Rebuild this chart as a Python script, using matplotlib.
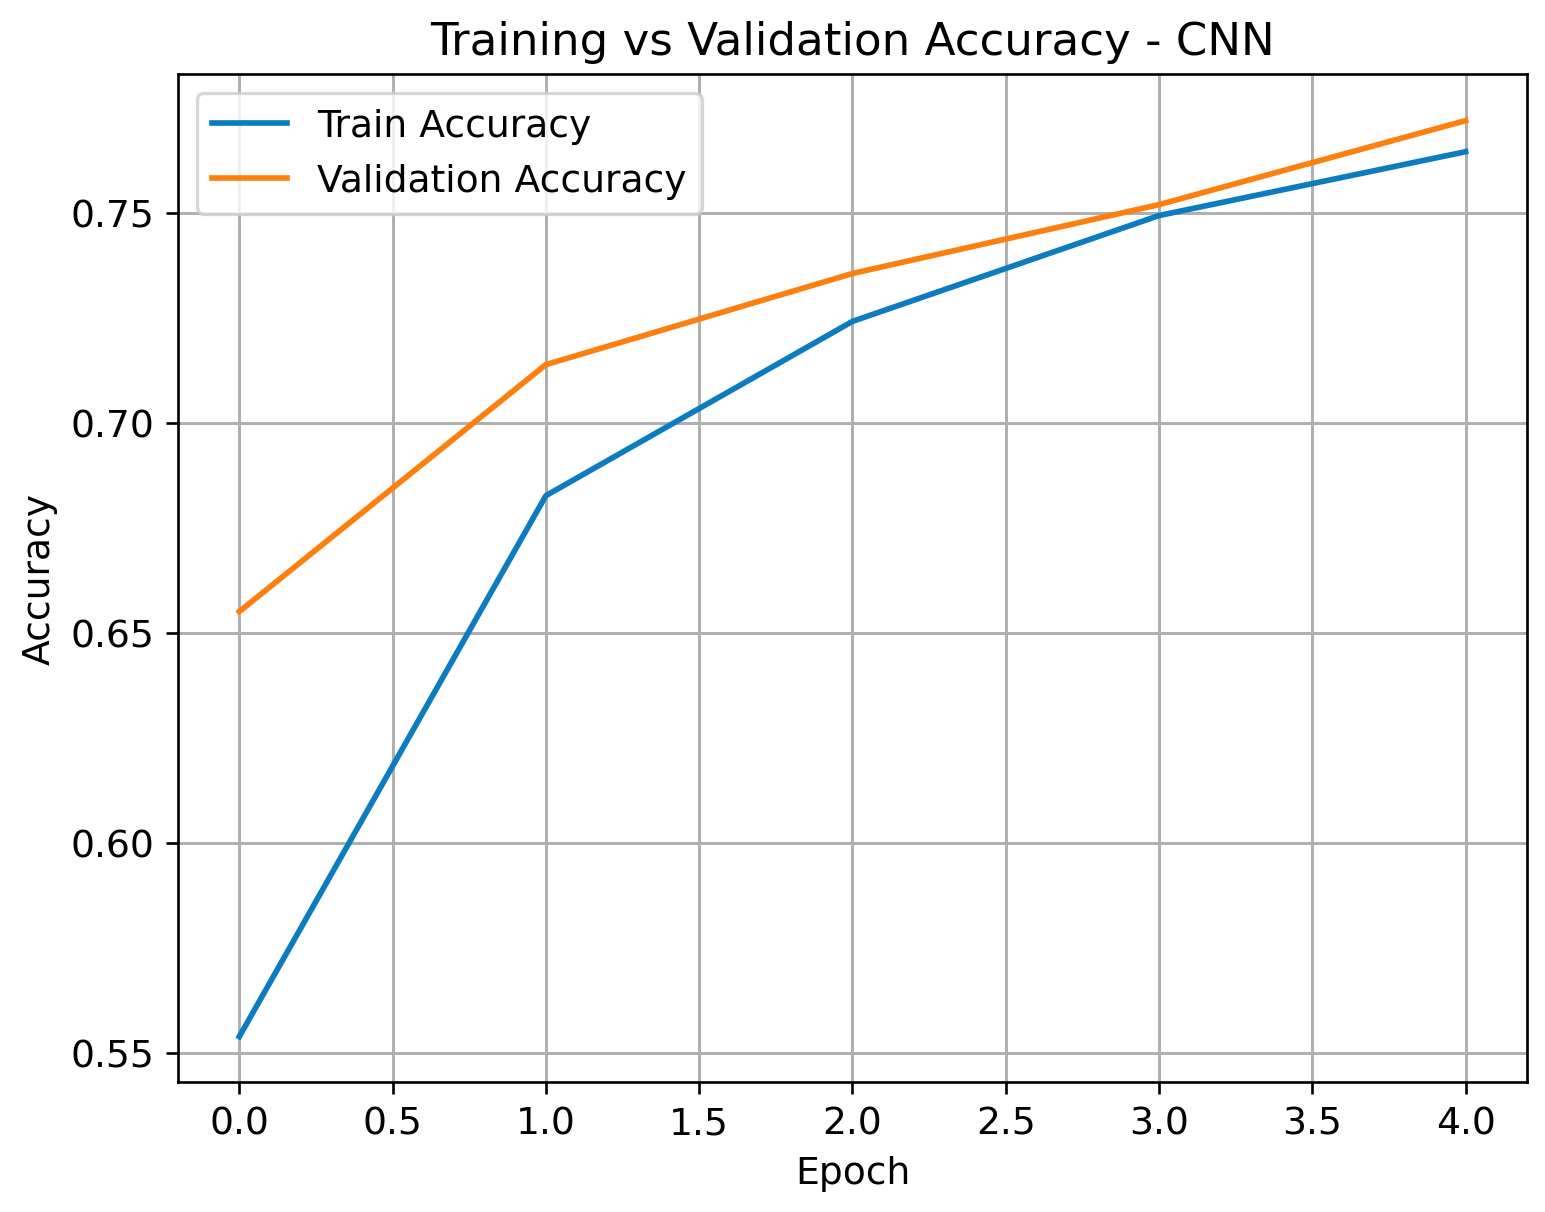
import matplotlib
matplotlib.use("Agg")
import matplotlib.pyplot as plt

# values
epochs = [0, 1, 2, 3, 4]
train_acc = [0.5538, 0.6826, 0.7241, 0.7493, 0.7645]
val_acc = [0.6550, 0.7138, 0.7355, 0.7519, 0.7719]

plt.rcParams["font.size"] = 11.3
plt.rcParams["grid.linewidth"] = 0.9

fig = plt.figure(figsize=(6.4375, 5.054), dpi=240)
ax = fig.add_axes([0.1152, 0.1072, 0.8731, 0.8310])

ax.plot(epochs, train_acc, color="#0b7cbf", lw=1.7, label="Train Accuracy")
ax.plot(epochs, val_acc, color="#ff7f0e", lw=1.7, label="Validation Accuracy")

ax.set_title("Training vs Validation Accuracy - CNN")
ax.set_xlabel("Epoch")
ax.set_ylabel("Accuracy")
ax.set_xticks([0.0, 0.5, 1.0, 1.5, 2.0, 2.5, 3.0, 3.5, 4.0])
ax.set_yticks([0.55, 0.60, 0.65, 0.70, 0.75])
ax.set_ylim(0.543, 0.783)
ax.set_xlim(-0.2, 4.2)
ax.legend(loc="upper left")
ax.grid(True)

fig.savefig("out.png", dpi=240)
